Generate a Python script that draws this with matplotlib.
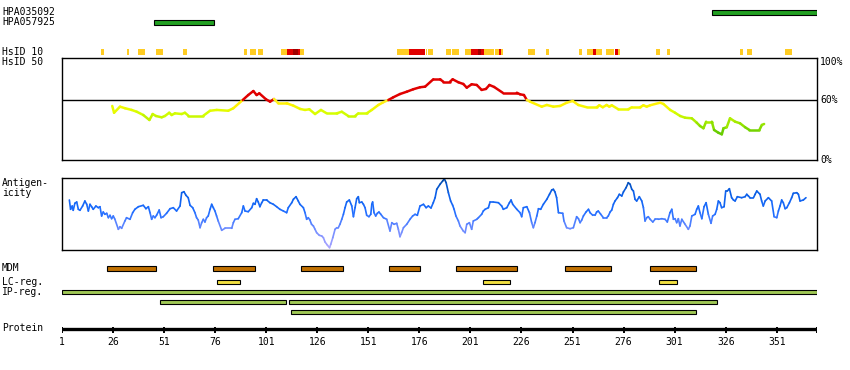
import matplotlib
matplotlib.use("Agg")
import matplotlib.pyplot as plt
import matplotlib.transforms as mtransforms
from matplotlib.collections import LineCollection
from matplotlib.colors import LinearSegmentedColormap, Normalize
from matplotlib.patches import Rectangle
import numpy as np

# ========================
# DATA
# ========================

protein_length = 370.7
tick_positions = [1, 26, 51, 76, 101, 126, 151, 176, 201, 226, 251, 276, 301, 326, 351]

# antibody regions (residue start, end)
hpa_names = ["HPA035092", "HPA057925"]
hpa_regions = [[(319.3, 370.7)], [(46.0, 75.3)]]

# HsID 10 blocks: start, end, level (0 yellow, 1 red, 2 dark red)
hsid_start = [20.2, 32.8, 38.2, 47.0, 60.3, 90.2, 93.1, 97.1,
              108.2, 111.0, 114.3, 116.7, 117.6,
              165.1, 170.9, 179.0, 180.4, 189.0, 192.0,
              198.4, 201.2, 204.5, 206.4, 207.7, 212.9, 214.8, 216.2,
              229.2, 238.0, 254.1, 257.9, 261.0, 262.4,
              267.2, 271.6, 273.1, 292.1, 297.1, 332.9, 336.2, 355.2]
hsid_end = [21.4, 34.0, 41.5, 50.6, 62.4, 91.4, 96.1, 99.2,
            111.0, 114.3, 116.7, 117.6, 119.5,
            170.9, 178.8, 179.7, 182.5, 191.4, 195.4,
            201.2, 204.5, 206.4, 207.7, 212.4, 214.8, 216.2, 217.1,
            232.5, 239.4, 255.5, 261.0, 262.4, 265.3,
            271.2, 273.1, 274.3, 293.8, 298.5, 334.3, 338.9, 358.3]
hsid_level = [0, 0, 0, 0, 0, 0, 0, 0,
              0, 1, 2, 1, 0,
              0, 1, 0, 0, 0, 0,
              0, 1, 2, 1, 0, 0, 1, 0,
              0, 0, 0, 0, 1, 0,
              0, 1, 0, 0, 0, 0, 0, 0]

# similarity (%) along the sequence
sim_pos = [25.6, 26.5, 29.4, 31.9, 35.1, 37.6, 40.8, 43.8, 45.4, 47.0, 49.8, 51.4,
           53.5, 54.7, 56.3, 59.6, 61.2, 62.9, 70.2, 73.5, 76.8, 82.4, 84.9, 89.5,
           92.2, 94.7, 96.3, 97.6, 100.9, 102.9, 104.8, 106.9, 111.0, 114.3, 117.6,
           120.0, 122.1, 124.9, 127.8, 130.6, 135.5, 138.0, 141.2, 144.5, 146.1,
           150.2, 152.7, 155.9, 158.3, 160.8, 163.2, 166.5, 169.8, 173.0, 176.3,
           178.8, 182.8, 186.1, 187.7, 191.0, 192.3, 195.1, 197.5, 199.2, 201.6,
           204.1, 206.5, 208.6, 210.3, 212.6, 216.8, 223.7, 225.3, 227.2, 228.6,
           230.2, 235.9, 238.4, 241.6, 244.9, 248.2, 251.1, 253.8, 257.9, 262.8,
           264.1, 265.8, 267.7, 269.0, 270.2, 273.4, 278.3, 280.0, 284.1, 285.7,
           287.3, 289.0, 293.9, 295.5, 298.8, 301.2, 303.7, 306.1, 309.4, 311.8,
           313.4, 315.1, 316.4, 319.2, 320.3, 322.4, 324.1, 324.9, 326.5, 328.1,
           330.6, 333.0, 335.5, 337.6, 342.5, 343.7, 344.8]
sim_val = [54.3, 47.5, 53.6, 52.0, 50.3, 48.5, 45.2, 40.2, 46.2, 44.2, 42.9, 44.2,
           47.5, 45.2, 46.9, 46.2, 47.5, 44.5, 44.5, 49.5, 50.3, 49.5, 52.0, 60.3,
           65.3, 69.3, 65.3, 67.0, 61.0, 58.6, 61.3, 57.0, 57.0, 54.6, 51.3,
           50.3, 51.0, 46.2, 50.3, 46.9, 46.9, 48.5, 44.2, 44.2, 46.9,
           46.9, 50.3, 55.3, 58.0, 60.3, 63.0, 66.3, 68.6, 71.1, 73.1,
           73.7, 81.1, 81.1, 78.7, 78.7, 81.1, 78.1, 76.4, 72.7, 76.1,
           75.4, 70.4, 71.4, 75.4, 73.4, 67.6, 67.6, 66.0, 65.3, 60.3,
           58.6, 53.6, 55.3, 53.6, 54.3, 57.6, 59.3, 55.3, 53.0, 53.0,
           55.0, 53.0, 55.3, 53.6, 55.0, 51.0, 51.0, 53.0, 53.0, 55.0,
           53.6, 55.0, 57.6, 56.3, 50.3, 47.5, 44.2, 42.5, 41.9, 37.5,
           34.2, 31.9, 38.5, 38.5, 30.2, 27.4, 25.8, 31.9, 32.9, 41.9,
           38.5, 36.9, 32.9, 30.2, 30.2, 35.2, 36.2]

# antigenicity along the sequence
ag_pos = [4.6, 5.2, 6.0, 6.5, 7.3, 8.2, 9.0, 9.8, 11.1, 12.2, 13.1, 13.9, 14.7, 15.5,
          16.3, 17.6, 18.8, 19.6, 20.4, 21.2, 22.0, 22.9, 23.7, 24.5, 25.3, 26.1, 26.9,
          28.6, 29.4, 30.2, 31.8, 32.6, 34.3, 35.6, 36.7, 38.4, 40.8, 42.1, 43.3, 44.1,
          44.9, 45.7, 46.5, 47.3, 48.6, 49.5, 50.6, 52.2, 53.9, 55.5, 57.1, 58.8, 59.6,
          60.7, 61.7, 62.8, 63.7, 65.0, 66.1, 66.9, 67.7, 68.6, 69.4, 70.2, 71.0, 71.8,
          72.6, 73.5, 74.3, 75.1, 75.9, 76.7, 77.5, 79.2, 80.8, 84.1, 84.9, 85.7, 87.3,
          89.0, 89.8, 90.6, 92.2, 93.9, 94.7, 95.5, 96.3, 97.1, 97.9, 98.8, 99.6, 101.2,
          102.8, 104.5, 106.1, 107.7, 109.4, 111.0, 111.8, 113.5, 114.3, 115.6, 116.7,
          117.5, 119.2, 120.0, 120.8, 121.6, 122.4, 123.2, 124.1, 124.9, 125.7, 127.0,
          128.2, 129.0, 129.8, 131.0, 132.0, 132.6, 133.6, 134.7, 135.5, 136.3, 137.1,
          138.0, 138.8, 139.6, 140.4, 141.7, 142.9, 143.7, 144.5, 145.3, 146.1, 146.6,
          147.8, 148.6, 149.4, 150.2, 151.3, 152.2, 152.7, 153.1, 153.8, 154.6, 155.4,
          156.2, 157.1, 158.4, 160.0, 161.6, 162.5, 163.6, 164.9, 165.7, 166.5, 167.3,
          168.2, 169.8, 171.4, 172.7, 173.9, 175.0, 176.3, 178.0, 179.3, 180.4, 181.7,
          182.8, 183.7, 184.5, 186.1, 187.4, 188.2, 189.1, 190.2, 191.3, 192.3, 193.0,
          193.9, 195.1, 195.9, 197.5, 198.4, 199.2, 200.5, 201.6, 202.4, 204.1, 204.9,
          206.5, 207.3, 208.2, 209.8, 210.6, 212.2, 214.7, 216.3, 217.1, 218.8, 220.1,
          220.9, 221.7, 223.7, 225.3, 226.1, 226.9, 228.6, 229.9, 231.0, 231.8, 232.6,
          233.5, 234.3, 235.4, 236.7, 238.4, 239.7, 240.8, 241.6, 242.4, 243.2, 244.1,
          246.2, 246.8, 248.1, 249.8, 251.4, 253.0, 253.9, 254.7,
          255.5, 256.3, 257.6, 258.8, 259.6, 260.9, 262.0, 262.8, 263.6, 264.8, 266.1,
          267.7, 268.5, 269.4, 270.2, 271.0, 271.8, 273.0, 273.9, 275.1, 275.9, 277.2,
          278.3, 279.2, 280.0, 280.8, 281.6, 282.4, 283.7, 284.9, 285.7, 286.5, 287.3,
          288.1, 289.0, 290.3, 291.4, 293.0, 294.7, 296.3, 297.4, 298.7, 299.6, 300.4,
          301.2, 302.0, 302.8, 303.6, 304.5, 306.1, 307.7, 308.5, 309.4, 311.0, 311.8,
          312.6, 313.4, 314.3, 315.4, 316.4, 317.5, 318.8, 319.6, 320.8, 321.6, 322.4,
          323.2, 324.0, 325.2, 326.0, 326.8, 327.8, 328.9, 329.8, 330.6, 331.7, 333.8,
          335.5, 336.3, 337.1, 337.9, 339.6, 340.4, 341.2, 342.8, 343.6, 344.4, 345.3,
          346.9, 348.5, 349.7, 351.0, 351.8, 352.6, 353.4, 354.2, 355.1, 355.9, 357.2,
          358.3, 359.1, 360.8, 361.6, 362.4, 364.0, 365.3]
ag_val = [50.0, 40.7, 44.0, 39.7, 46.7, 48.0, 40.7, 39.7, 44.0, 49.0, 45.7, 39.0, 45.7, 43.3,
          40.7, 44.0, 42.3, 43.3, 34.0, 38.0, 35.7, 36.7, 32.3, 34.7, 31.3, 34.0, 30.7,
          20.7, 23.3, 21.7, 29.0, 32.3, 30.7, 37.3, 40.7, 43.3, 44.7, 41.3, 43.3, 37.3,
          30.7, 34.0, 32.3, 34.7, 40.0, 32.3, 33.3, 36.7, 41.3, 42.3, 39.0, 44.0, 57.3,
          58.3, 54.7, 52.3, 44.7, 42.3, 37.3, 32.3, 30.0, 22.3, 27.3, 30.7, 28.0, 32.3,
          34.0, 40.7, 45.7, 42.3, 39.0, 34.0, 29.0, 19.7, 21.7, 21.7, 27.3, 30.7, 31.3,
          37.3, 44.0, 39.0, 38.3, 42.3, 46.7, 45.7, 51.3, 48.0, 43.3, 47.3, 50.0, 50.0,
          47.3, 45.7, 43.3, 40.7, 39.0, 37.3, 42.3, 47.3, 50.7, 53.3, 49.0,
          45.7, 42.3, 37.3, 30.7, 32.3, 30.0, 25.7, 24.0, 20.7, 17.3, 14.7,
          14.0, 12.3, 8.0, 4.7, 2.3, 5.7, 12.3, 20.7, 22.3, 22.3, 25.7,
          30.7, 35.7, 42.3, 48.0, 50.0, 44.0, 33.3, 42.3, 51.3, 53.3, 47.3,
          48.0, 45.7, 42.3, 34.7, 33.3, 35.7, 45.7, 48.0, 37.3, 34.0, 36.7,
          38.0, 35.7, 32.3, 30.7, 19.0, 27.3, 25.7, 26.7, 20.7, 13.3, 17.3,
          22.3, 25.7, 30.7, 34.0, 35.7, 34.7, 44.0, 45.7, 42.3, 44.0, 42.0,
          47.3, 52.3, 60.7, 65.7, 69.0, 71.3, 67.3, 57.3, 49.0, 44.7, 40.7,
          34.0, 29.0, 24.0, 19.0, 17.3, 25.7, 27.3, 20.7, 29.0, 30.7, 32.3,
          35.7, 39.0, 40.7, 42.3, 48.0, 48.0, 47.3, 44.0, 40.7, 42.3, 47.3,
          50.0, 45.7, 40.7, 37.3, 33.3, 42.3, 43.3, 37.3, 27.3, 22.3, 27.3,
          34.0, 41.3, 40.7, 45.7, 50.7, 55.7, 60.0, 60.7, 58.0, 52.3, 37.3,
          36.7, 29.0, 22.3, 21.3, 22.3, 33.3, 31.3, 27.3,
          30.0, 34.0, 38.0, 40.7, 37.3, 34.7, 34.7, 38.0, 39.0, 35.7, 32.3,
          32.3, 34.0, 38.0, 40.0, 45.7, 49.0, 52.3, 55.7, 54.0, 58.0, 62.3,
          67.3, 65.7, 60.7, 59.0, 50.7, 49.0, 53.3, 49.0, 42.3, 29.0, 32.3,
          33.3, 30.7, 28.0, 30.7, 30.7, 31.3, 30.7, 28.0, 37.3, 40.7, 30.7,
          31.3, 27.3, 31.3, 24.0, 30.7, 25.7, 20.7, 24.0, 34.0, 35.7, 40.7,
          44.0, 37.3, 31.3, 43.3, 47.3, 35.7, 26.7, 34.0, 35.7, 40.7, 49.0,
          47.3, 42.3, 43.3, 59.0, 59.0, 61.3, 52.3, 50.0, 49.0, 53.3, 52.3,
          53.3, 55.7, 54.0, 52.3, 52.3, 55.7, 59.0, 55.7, 49.0, 44.0, 49.0,
          52.3, 49.0, 33.3, 32.3, 39.0, 44.0, 50.0, 47.3, 41.3, 42.3, 47.3,
          52.3, 56.7, 57.3, 55.7, 49.0, 50.0, 52.3]

# feature tracks
mdm_start = [23.2, 75.1, 118.2, 161.3, 194.1, 247.5, 289.1]
mdm_end = [47.2, 95.4, 138.5, 176.3, 223.7, 269.7, 311.3]
lc_start = [77.1, 207.3, 293.5]
lc_end = [88.3, 220.5, 302.3]
ip_rows = [[(1.0, 370.6)], [(49.1, 110.5), (112.3, 321.6)], [(113.3, 311.3)]]


# ========================
# FIGURE
# ========================

W, H = 850, 370
FONT = dict(family="DejaVu Sans Mono", fontsize=7)

fig = plt.figure(figsize=(W / 100, H / 100), dpi=100)


def add_axes_px(x0, y0, x1, y1):
    return fig.add_axes([x0 / W, 1 - y1 / H, (x1 - x0) / W, (y1 - y0) / H])


# track axes: x in residues, y in pixel rows
track = add_axes_px(62, 0, 817, H)
track.set_xlim(1, protein_length)
track.set_ylim(H, 0)
track.axis("off")
lab = mtransforms.blended_transform_factory(fig.transFigure, track.transData)


def left_label(y, text):
    track.text(2 / W, y, text, transform=lab, va="center", ha="left", **FONT)


def bar(start, end, y0, y1, color, edge=True):
    track.add_patch(Rectangle((start, y0), end - start, y1 - y0, facecolor=color,
                              edgecolor="black" if edge else "none",
                              linewidth=0.8 if edge else 0))


# HPA rows
left_label(12, hpa_names[0])
left_label(22, hpa_names[1])
for row, regions in enumerate(hpa_regions):
    y0 = 10 + row * 10
    for s, e in regions:
        bar(s, e, y0, y0 + 4.5, "#22a022")

# HsID
left_label(52, "HsID 10")
left_label(62, "HsID 50")
hsid_colors = ["#ffcc22", "#e00000", "#a00000"]
for s, e, lv in zip(hsid_start, hsid_end, hsid_level):
    bar(s, e, 48.5, 55, hsid_colors[lv], edge=False)

# similarity panel
sim_ax = add_axes_px(62, 58, 817, 160)
sim_ax.set_xlim(1, protein_length)
sim_ax.set_ylim(0, 102.5)
sim_ax.set_xticks([])
sim_ax.set_yticks([])
for sp in sim_ax.spines.values():
    sp.set_linewidth(1.0)
sim_ax.axhline(60, color="black", lw=1.0, zorder=1)
sim_cmap = LinearSegmentedColormap.from_list("sim", [
    (0.0, "#449900"), (0.28, "#66cc00"), (0.36, "#99e600"), (0.43, "#c4f500"),
    (0.47, "#d4ff00"), (0.52, "#eefa00"), (0.56, "#fff200"), (0.598, "#ffee22"),
    (0.6, "#e00000"), (1.0, "#e00000")])
pts = np.column_stack([sim_pos, sim_val])
segs = np.stack([pts[:-1], pts[1:]], axis=1)
mid = (np.array(sim_val[:-1]) + np.array(sim_val[1:])) / 2
lc = LineCollection(segs, cmap=sim_cmap, norm=Normalize(0, 100), linewidths=1.8,
                    capstyle="round", zorder=2)
lc.set_array(mid)
sim_ax.add_collection(lc)
for v, t in [(100, "100%"), (60, "60%"), (0, "0%")]:
    sim_ax.text(1.004, v - 1.5 if v == 100 else v, t, transform=sim_ax.get_yaxis_transform(),
                va="center", ha="left", **FONT)

# antigenicity panel
left_label(183, "Antigen-")
left_label(193, "icity")
ag_ax = add_axes_px(62, 178, 817, 250)
ag_ax.set_xlim(1, protein_length)
ag_ax.set_ylim(0, 72)
ag_ax.set_xticks([])
ag_ax.set_yticks([])
for sp in ag_ax.spines.values():
    sp.set_linewidth(1.0)
ag_cmap = LinearSegmentedColormap.from_list("ag", [
    (0.0, "#b4a8ff"), (0.3, "#6a8aff"), (0.55, "#1c6cff"), (0.8, "#0a5ee6"),
    (1.0, "#0046a0")])
pts = np.column_stack([ag_pos, ag_val])
segs = np.stack([pts[:-1], pts[1:]], axis=1)
mid = (np.array(ag_val[:-1]) + np.array(ag_val[1:])) / 2
lc = LineCollection(segs, cmap=ag_cmap, norm=Normalize(0, 72), linewidths=1.2,
                    capstyle="round")
lc.set_array(mid)
ag_ax.add_collection(lc)

# MDM / LC / IP tracks
left_label(268, "MDM")
for s, e in zip(mdm_start, mdm_end):
    bar(s, e, 265.5, 270.5, "#c07000")
left_label(282, "LC-reg.")
for s, e in zip(lc_start, lc_end):
    bar(s, e, 280.3, 284.3, "#f2e040")
left_label(292, "IP-reg.")
for row, regions in enumerate(ip_rows):
    y0 = 290.3 + row * 10
    for s, e in regions:
        bar(s, e, y0, y0 + 4, "#a0c855")

# protein axis
left_label(328, "Protein")
track.plot([1, protein_length], [329.3, 329.3], color="black", lw=2.4,
           solid_capstyle="butt")
for t in tick_positions + [protein_length]:
    track.plot([t, t], [326.5, 332.5], color="black", lw=1.4, solid_capstyle="butt")
for t in tick_positions:
    track.text(t, 342, str(t), ha="center", va="center", **FONT)

fig.savefig("out.png", dpi=100)
